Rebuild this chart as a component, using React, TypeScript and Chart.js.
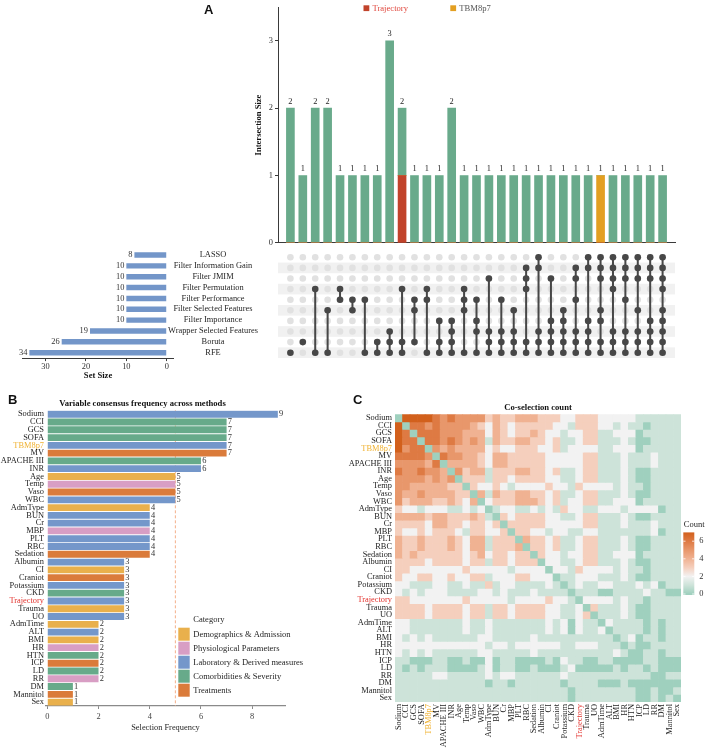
import React, { useEffect, useRef } from "react";
import { Chart, registerables } from "chart.js";

Chart.register(...registerables);

const SERIF = "'Liberation Serif', 'Times New Roman', Times, serif";
const TEXT = "#1f1f1f";
const AXIS = "#3a3a3a";
const AXIS_GRAY = "#8a8a8a";
Chart.defaults.font.family = SERIF;
Chart.defaults.font.size = 8.4;
Chart.defaults.color = TEXT;

// ---------------- Panel A : UpSet data ----------------
const methodNames = [
  "LASSO",
  "Filter Information Gain",
  "Filter JMIM",
  "Filter Permutation",
  "Filter Performance",
  "Filter Selected Features",
  "Filter Importance",
  "Wrapper Selected Features",
  "Boruta",
  "RFE",
];
const setSizes = [8, 10, 10, 10, 10, 10, 10, 19, 26, 34];
const setSizeTicks = [0, 10, 20, 30];
// method indices (row order above) of each intersection column
const intersectionMembers = [
  [9], [8], [3, 9], [5, 9], [3, 4], [4, 5], [4, 9], [8, 9],
  [7, 8, 9], [3, 8, 9], [4, 5, 8], [3, 4, 9], [6, 8, 9],
  [6, 7, 8, 9], [3, 4, 5, 9], [4, 6, 7, 9], [2, 7, 8, 9], [4, 7, 8, 9], [5, 7, 8, 9],
  [1, 2, 3, 8, 9], [0, 1, 7, 8, 9], [2, 6, 7, 8, 9], [5, 6, 7, 8, 9],
  [1, 2, 4, 7, 8, 9], [0, 1, 6, 7, 8, 9],
  [0, 1, 2, 5, 6, 8, 9], [0, 1, 2, 3, 7, 8, 9], [0, 1, 2, 4, 7, 8, 9], [0, 1, 2, 5, 7, 8, 9], [0, 1, 2, 6, 7, 8, 9],
  [0, 1, 2, 3, 5, 6, 7, 8, 9],
];
const intersectionSizes = [2, 1, 2, 2, 1, 1, 1, 1, 3, 2, 1, 1, 1, 2, 1, 1, 1, 1, 1, 1, 1, 1, 1, 1, 1, 1, 1, 1, 1, 1, 1];
const trajectoryCounts = [0, 0, 0, 0, 0, 0, 0, 0, 0, 1, 0, 0, 0, 0, 0, 0, 0, 0, 0, 0, 0, 0, 0, 0, 0, 0, 0, 0, 0, 0, 0];
const tbm8p7Counts = [0, 0, 0, 0, 0, 0, 0, 0, 0, 0, 0, 0, 0, 0, 0, 0, 0, 0, 0, 0, 0, 0, 0, 0, 0, 1, 0, 0, 0, 0, 0];
const intersectionTicks = [0, 1, 2, 3];

// ---------------- Panel B / C data ----------------
const variables = [
  "Sodium", "CCI", "GCS", "SOFA", "TBM8p7", "MV", "APACHE III", "INR", "Age", "Temp",
  "Vaso", "WBC", "AdmType", "BUN", "Cr", "MBP", "PLT", "RBC", "Sedation", "Albumin",
  "CI", "Craniot", "Potassium", "CKD", "Trajectory", "Trauma", "UO", "AdmTime", "ALT", "BMI",
  "HR", "HTN", "ICP", "LD", "RR", "DM", "Mannitol", "Sex",
];
const frequencies = [
  9, 7, 7, 7, 7, 7, 6, 6, 5, 5,
  5, 5, 4, 4, 4, 4, 4, 4, 4, 3,
  3, 3, 3, 3, 3, 3, 3, 2, 2, 2,
  2, 2, 2, 2, 2, 1, 1, 1,
];
const categoryNames = [
  "Demographics & Admission",
  "Physiological Parameters",
  "Laboratory & Derived measures",
  "Comorbidities & Severity",
  "Treatments",
];
const variableCategory = [
  2, 3, 3, 3, 2, 4, 3, 2, 0, 1,
  4, 2, 0, 2, 2, 1, 2, 2, 4, 2,
  0, 4, 2, 3, 2, 0, 2, 0, 2, 0,
  1, 3, 4, 3, 1, 3, 4, 0,
];
// UpSet column holding each variable
const variableIntersection = [
  30, 26, 28, 29, 25, 27, 23, 24, 20, 19,
  21, 22, 14, 16, 17, 15, 13, 13, 18, 8,
  9, 12, 11, 10, 9, 8, 8, 2, 2, 3,
  7, 3, 4, 5, 6, 1, 0, 0,
];
const frequencyTicks = [0, 2, 4, 6, 8];
const consensusThreshold = 5;
const countTicks = [0, 2, 4, 6];

// co-selection count between variables (methods selecting both)
const variableMethods = variableIntersection.map((k) => intersectionMembers[k]);
const coSelection = variableMethods.map((a, i) =>
  variableMethods.map((b, j) => (i === j ? 0 : a.filter((m) => b.includes(m)).length))
);

// ---------------- styles ----------------
const GREEN = "#69aa8b";
const RED = "#c1432b";
const ORANGE = "#e39f22";
const DOT = "#474747";
const DOT_BG = "#e1e1e1";
const BAND = "#f1f1f1";
const SET_BLUE = "#7396c9";
const categoryColors = ["#e9b04c", "#d89ec4", "#7497ca", "#67aa8a", "#da7b3b"];
const heatPalette = ["#9fd0be", "#cde3d9", "#f2f2f2", "#f5cfbd", "#f0b292", "#e8976b", "#de7a43", "#d2601c"];
const highlightColors: Record<string, string> = { TBM8p7: "#f0b232", Trajectory: "#e3342f" };
const labelColor = (name: string) => highlightColors[name] ?? TEXT;

const baseOptions = () => ({
  animation: false as const,
  responsive: false,
  maintainAspectRatio: false,
  devicePixelRatio: 1,
  events: [] as any[],
});

// ---------------- Panel A : intersection bars ----------------
const upsetLabelPlugin = {
  id: "upsetLabels",
  afterDatasetsDraw(chart: any) {
    const { ctx, scales } = chart;
    ctx.save();
    ctx.font = `8.4px ${SERIF}`;
    ctx.fillStyle = TEXT;
    ctx.textAlign = "center";
    ctx.textBaseline = "bottom";
    intersectionSizes.forEach((v, i) => {
      ctx.fillText(String(v), scales.x.getPixelForValue(i + 1), scales.y.getPixelForValue(v) - 2.5);
    });
    ctx.restore();
  },
};
const upsetLegendPlugin = {
  id: "upsetLegend",
  afterDraw(chart: any) {
    const ctx = chart.ctx;
    const ds = chart.data.datasets;
    ctx.save();
    ctx.font = `8.6px ${SERIF}`;
    ctx.textBaseline = "middle";
    ctx.textAlign = "left";
    ctx.fillStyle = RED;
    ctx.fillRect(163.5, 5.3, 5.8, 5.8);
    ctx.fillStyle = "#e0463c";
    ctx.fillText(ds[0].label, 172.5, 8.4);
    ctx.fillStyle = ORANGE;
    ctx.fillRect(250.3, 5.3, 5.8, 5.8);
    ctx.fillStyle = "#555555";
    ctx.fillText(ds[1].label, 259.3, 8.4);
    ctx.restore();
  },
};
function upsetBarsConfig(): any {
  const xs = intersectionSizes.map((_, i) => i + 1);
  const rest = intersectionSizes.map((v, i) => v - trajectoryCounts[i] - tbm8p7Counts[i]);
  return {
    type: "bar",
    data: {
      datasets: [
        { label: "Trajectory", data: xs.map((x, i) => ({ x, y: trajectoryCounts[i] })), backgroundColor: RED },
        { label: "TBM8p7", data: xs.map((x, i) => ({ x, y: tbm8p7Counts[i] })), backgroundColor: ORANGE },
        { label: "Other", data: xs.map((x, i) => ({ x, y: rest[i] })), backgroundColor: GREEN },
      ],
    },
    options: {
      ...baseOptions(),
      layout: { padding: { left: 52, right: 33, top: 1.5, bottom: 0 } },
      datasets: { bar: { barThickness: 8, borderWidth: 0 } },
      plugins: { legend: { display: false }, tooltip: { enabled: false } },
      scales: {
        x: {
          type: "linear",
          min: 0,
          max: 32,
          offset: false,
          stacked: true,
          grid: { display: false, drawTicks: false },
          ticks: { display: false },
          border: { color: AXIS, width: 1 },
          afterFit: (s: any) => {
            s.height = 2;
          },
        },
        y: {
          type: "linear",
          min: 0,
          max: 3.5,
          stacked: true,
          afterBuildTicks: (ax: any) => {
            ax.ticks = intersectionTicks.map((v) => ({ value: v }));
          },
          ticks: { padding: 2, color: "#333" },
          grid: { drawOnChartArea: false, tickLength: 3, color: AXIS },
          border: { color: AXIS },
          title: {
            display: true,
            text: "Intersection Size",
            font: { weight: "bold", size: 8.6 },
            color: "#111",
            padding: { top: 2, bottom: 2 },
          },
          afterFit: (s: any) => {
            s.width = 26;
          },
        },
      },
    },
    plugins: [upsetLabelPlugin, upsetLegendPlugin],
  };
}

// ---------------- Panel A : membership matrix ----------------
const bandPlugin = {
  id: "rowBands",
  beforeDatasetsDraw(chart: any) {
    const { ctx, chartArea, scales } = chart;
    ctx.save();
    ctx.fillStyle = BAND;
    methodNames.forEach((_, r) => {
      if (r % 2 === 1) {
        const y0 = scales.y.getPixelForValue(r + 0.5);
        const y1 = scales.y.getPixelForValue(r + 1.5);
        ctx.fillRect(chartArea.left, y0, chartArea.right - chartArea.left, y1 - y0);
      }
    });
    ctx.restore();
  },
};
function upsetMatrixConfig(): any {
  const bg: { x: number; y: number }[] = [];
  intersectionSizes.forEach((_, i) => methodNames.forEach((__, r) => bg.push({ x: i + 1, y: r + 1 })));
  const lines = intersectionMembers.map((members, i) => ({
    data: [...members].sort((a, b) => a - b).map((m) => ({ x: i + 1, y: m + 1 })),
    showLine: true,
    borderColor: DOT,
    borderWidth: 2,
    pointRadius: 3.3,
    pointBackgroundColor: DOT,
    pointBorderWidth: 0,
    tension: 0,
    fill: false,
  }));
  return {
    type: "scatter",
    data: {
      datasets: [
        ...lines,
        { data: bg, showLine: false, pointRadius: 3.3, pointBackgroundColor: DOT_BG, pointBorderWidth: 0 },
      ],
    },
    options: {
      ...baseOptions(),
      layout: { padding: { left: 78, right: 33, top: 1.6, bottom: 3.9 } },
      plugins: { legend: { display: false }, tooltip: { enabled: false } },
      scales: {
        x: { type: "linear", display: false, min: 0, max: 32 },
        y: { type: "linear", display: false, min: 0.5, max: 10.5, reverse: true },
      },
    },
    plugins: [bandPlugin],
  };
}

// ---------------- Panel A : set sizes ----------------
const setLabelPlugin = {
  id: "setLabels",
  afterDatasetsDraw(chart: any) {
    const { ctx, scales } = chart;
    ctx.save();
    ctx.font = `8.4px ${SERIF}`;
    ctx.fillStyle = "#333";
    ctx.textAlign = "right";
    ctx.textBaseline = "middle";
    setSizes.forEach((v, i) => {
      ctx.fillText(String(v), scales.x.getPixelForValue(v) - 2, scales.y.getPixelForValue(i));
    });
    ctx.fillStyle = TEXT;
    ctx.textAlign = "center";
    methodNames.forEach((name, i) => {
      ctx.fillText(name, 213, scales.y.getPixelForValue(i));
    });
    ctx.restore();
  },
};
function setSizeConfig(): any {
  return {
    type: "bar",
    data: {
      labels: methodNames,
      datasets: [{ data: setSizes, backgroundColor: SET_BLUE, barPercentage: 0.5, categoryPercentage: 1, borderWidth: 0 }],
    },
    options: {
      ...baseOptions(),
      indexAxis: "y",
      layout: { padding: { left: 22.5, right: 96.4, top: 9.6, bottom: 6.9 } },
      plugins: { legend: { display: false }, tooltip: { enabled: false } },
      scales: {
        x: {
          type: "linear",
          reverse: true,
          min: -1.7,
          max: 35.7,
          afterBuildTicks: (ax: any) => {
            ax.ticks = setSizeTicks.map((v) => ({ value: v }));
          },
          ticks: { padding: 1, maxRotation: 0, autoSkip: false, color: "#333" },
          grid: { drawOnChartArea: false, tickLength: 3, color: AXIS },
          border: { color: AXIS },
          title: {
            display: true,
            text: "Set Size",
            font: { weight: "bold", size: 8.6 },
            color: "#111",
            padding: { top: 0, bottom: 2 },
          },
          afterFit: (s: any) => {
            s.height = 25;
          },
        },
        y: { display: false },
      },
    },
    plugins: [setLabelPlugin],
  };
}

// ---------------- Panel B ----------------
const frequencyPlugin = {
  id: "frequencyExtras",
  beforeDatasetsDraw(chart: any) {
    const { ctx, chartArea, scales } = chart;
    const x = scales.x.getPixelForValue(consensusThreshold);
    ctx.save();
    ctx.strokeStyle = "#f4b08a";
    ctx.lineWidth = 1;
    ctx.setLineDash([3, 2]);
    ctx.beginPath();
    ctx.moveTo(x, chartArea.top);
    ctx.lineTo(x, chartArea.bottom);
    ctx.stroke();
    ctx.restore();
  },
  afterDatasetsDraw(chart: any) {
    const { ctx, scales } = chart;
    ctx.save();
    ctx.font = `8.4px ${SERIF}`;
    ctx.fillStyle = "#333";
    ctx.textAlign = "left";
    ctx.textBaseline = "middle";
    frequencies.forEach((v, i) => {
      ctx.fillText(String(v), scales.x.getPixelForValue(v) + 1.2, scales.y.getPixelForValue(i));
    });
    // legend
    ctx.fillStyle = TEXT;
    ctx.font = `8.5px ${SERIF}`;
    ctx.fillText("Category", 193.3, 224.5);
    categoryNames.forEach((name, k) => {
      ctx.fillStyle = categoryColors[k];
      ctx.fillRect(178.3, 232.7 + 14 * k, 11.4, 13);
      ctx.fillStyle = TEXT;
      ctx.fillText(name, 193.3, 239.4 + 14 * k);
    });
    ctx.restore();
  },
};
function frequencyConfig(): any {
  return {
    type: "bar",
    data: {
      labels: variables,
      datasets: [
        {
          data: frequencies,
          backgroundColor: variableCategory.map((c) => categoryColors[c]),
          barPercentage: 0.88,
          categoryPercentage: 1,
          borderWidth: 0,
        },
      ],
    },
    options: {
      ...baseOptions(),
      indexAxis: "y",
      layout: { padding: { left: 0, right: 27, top: 0, bottom: 14 } },
      plugins: {
        legend: { display: false },
        tooltip: { enabled: false },
        title: {
          display: true,
          text: "Variable consensus frequency across methods",
          font: { weight: "bold", size: 8.6 },
          color: "#111",
          padding: { top: 4, bottom: 1 },
        },
      },
      scales: {
        x: {
          type: "linear",
          min: -0.05,
          max: 9.28,
          afterBuildTicks: (ax: any) => {
            ax.ticks = frequencyTicks.map((v) => ({ value: v }));
          },
          ticks: { padding: 3, maxRotation: 0, color: "#444" },
          grid: { drawOnChartArea: false, tickLength: 3, color: AXIS_GRAY },
          border: { color: AXIS_GRAY, width: 1.2 },
          title: { display: true, text: "Selection Frequency", color: TEXT, padding: { top: 0, bottom: 2 } },
          afterFit: (s: any) => {
            s.height = 29;
          },
        },
        y: {
          grid: { display: false, drawTicks: false },
          border: { display: false },
          ticks: { autoSkip: false, padding: 2, color: (ctx: any) => labelColor(variables[ctx.index]) },
          afterFit: (s: any) => {
            s.width = 46;
          },
        },
      },
    },
    plugins: [frequencyPlugin],
  };
}

// ---------------- Panel C ----------------
const colorbarPlugin = {
  id: "colorbar",
  afterDraw(chart: any) {
    const ctx = chart.ctx;
    const x0 = chart.chartArea.right + 2.3;
    const w = 11;
    const yZero = 199;
    const unit = 8.8;
    const maxCount = heatPalette.length - 1;
    ctx.save();
    const g = ctx.createLinearGradient(0, yZero, 0, yZero - unit * maxCount);
    heatPalette.forEach((c, v) => g.addColorStop(v / maxCount, c));
    ctx.fillStyle = g;
    ctx.fillRect(x0, yZero - unit * maxCount, w, unit * maxCount + 1);
    ctx.strokeStyle = "#ffffff";
    ctx.lineWidth = 0.8;
    ctx.font = `8.4px ${SERIF}`;
    ctx.textAlign = "left";
    ctx.textBaseline = "middle";
    countTicks.forEach((v) => {
      const y = yZero - unit * v;
      ctx.beginPath();
      ctx.moveTo(x0, y);
      ctx.lineTo(x0 + 2.2, y);
      ctx.moveTo(x0 + w - 2.2, y);
      ctx.lineTo(x0 + w, y);
      ctx.stroke();
      ctx.fillStyle = "#333";
      ctx.fillText(String(v), x0 + w + 5, y);
    });
    ctx.fillStyle = TEXT;
    ctx.font = `8.5px ${SERIF}`;
    ctx.fillText("Count", x0 + 0.5, 130);
    ctx.restore();
  },
};
function heatmapConfig(): any {
  return {
    type: "bar",
    data: {
      labels: variables,
      datasets: variables.map((_, r) => ({
        label: variables[r],
        data: variables.map(() => 1),
        backgroundColor: variables.map((__, c) => heatPalette[coSelection[r][c]]),
        borderWidth: 0,
        barPercentage: 1,
        categoryPercentage: 1,
      })),
    },
    options: {
      ...baseOptions(),
      layout: { padding: { left: 0, right: 27, top: 0, bottom: 0 } },
      plugins: { legend: { display: false }, tooltip: { enabled: false } },
      scales: {
        x: {
          stacked: true,
          grid: { display: false, drawTicks: false },
          border: { display: false },
          ticks: {
            autoSkip: false,
            minRotation: 90,
            maxRotation: 90,
            padding: 2,
            color: (ctx: any) => labelColor(variables[ctx.index]),
          },
          afterFit: (s: any) => {
            s.height = 47;
          },
        },
        xTitle: {
          type: "category",
          axis: "x",
          position: "top",
          grid: { display: false, drawTicks: false },
          border: { display: false },
          ticks: { display: false },
          title: {
            display: true,
            text: "Co-selection count",
            font: { weight: "bold", size: 8.6 },
            color: "#111",
            padding: { top: 7.8, bottom: 0 },
          },
          afterFit: (s: any) => {
            s.height = 19.3;
          },
        },
        y: {
          type: "linear",
          stacked: true,
          reverse: true,
          min: 0,
          max: variables.length,
          afterBuildTicks: (ax: any) => {
            ax.ticks = variables.map((_, i) => ({ value: i + 0.5 }));
          },
          ticks: {
            autoSkip: false,
            padding: 3,
            callback: (v: any) => variables[Math.floor(Number(v))],
            color: (ctx: any) => labelColor(variables[ctx.index]),
          },
          grid: { display: false, drawTicks: false },
          border: { display: false },
          afterFit: (s: any) => {
            s.width = 55;
          },
        },
      },
    },
    plugins: [colorbarPlugin],
  };
}

// ---------------- components ----------------
function ChartCanvas(props: { x: number; y: number; w: number; h: number; config: () => any }) {
  const { x, y, w, h, config } = props;
  const ref = useRef<HTMLCanvasElement | null>(null);
  useEffect(() => {
    if (!ref.current) return;
    const chart = new Chart(ref.current, config());
    return () => chart.destroy();
  }, []);
  return (
    <canvas
      ref={ref}
      width={w}
      height={h}
      style={{ position: "absolute", left: x, top: y, width: w, height: h }}
    />
  );
}

const panelLabel = (left: number, top: number): React.CSSProperties => ({
  position: "absolute",
  left,
  top,
  fontFamily: "'Liberation Sans', Arial, sans-serif",
  fontWeight: "bold",
  fontSize: 13,
  lineHeight: "14px",
  color: "#111",
});

export default function App() {
  return (
    <div
      style={{
        position: "absolute",
        left: 0,
        top: 0,
        width: 708,
        height: 749,
        background: "#ffffff",
        overflow: "hidden",
      }}
    >
      <ChartCanvas x={0} y={240} w={270} h={150} config={setSizeConfig} />
      <ChartCanvas x={200} y={0} w={508} h={250} config={upsetBarsConfig} />
      <ChartCanvas x={200} y={248} w={508} h={114} config={upsetMatrixConfig} />
      <ChartCanvas x={0} y={395} w={312} h={354} config={frequencyConfig} />
      <ChartCanvas x={340} y={395} w={368} h={354} config={heatmapConfig} />
      <div style={panelLabel(204, 3)}>A</div>
      <div style={panelLabel(8, 393)}>B</div>
      <div style={panelLabel(353, 393)}>C</div>
    </div>
  );
}
